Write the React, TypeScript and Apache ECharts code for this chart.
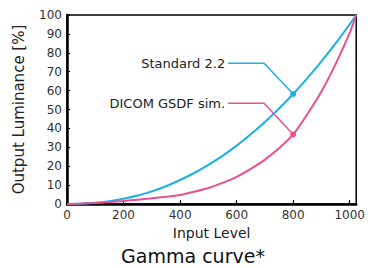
import React, { useEffect, useRef } from "react";
import * as echarts from "echarts";

const inputLevels = [0, 50, 100, 150, 200, 250, 300, 350, 400, 450, 500, 550, 600, 650, 700, 750, 800, 850, 900, 950, 1000, 1023];
const standard22 = [0, 0.1, 0.6, 1.5, 2.8, 4.5, 6.7, 9.4, 12.7, 16.4, 20.7, 25.5, 30.9, 36.9, 43.4, 50.5, 58.2, 66.6, 75.5, 85.0, 95.1, 100];
const dicomGsdf = [0, 0.2, 0.5, 1.0, 1.6, 2.3, 3.0, 3.8, 4.8, 6.5, 8.5, 11.2, 14.4, 18.6, 23.5, 29.5, 36.8, 47.5, 59.5, 74, 90.5, 100];

const seriesNames = ["Standard 2.2", "DICOM GSDF sim."];
const leaderStdX = [570, 697, 800];
const leaderStdY = [74.5, 74.5, 58.2];
const leaderDicomX = [570, 697, 800];
const leaderDicomY = [53.3, 53.3, 36.8];

const xTitle = "Input Level";
const yTitle = "Output Luminance [%]";
const chartTitle = "Gamma curve*";

const BLUE = "#19b1e6";
const PINK = "#e8508f";
const FONT = "DejaVu Sans";

function leader(xs: number[], ys: number[], name: string, color: string) {
  return {
    type: "line",
    silent: true,
    showSymbol: true,
    data: xs.map((x, i) => {
      const item: any = { value: [x, ys[i]], symbol: "circle", symbolSize: 0 };
      if (i === 0) {
        item.label = {
          show: true,
          formatter: name,
          position: "left",
          distance: 3,
          color: "#222",
          fontSize: 13,
          fontFamily: FONT,
        };
      }
      if (i === xs.length - 1) {
        item.symbolSize = 6;
      }
      return item;
    }),
    lineStyle: { color, width: 1.5 },
    itemStyle: { color },
    z: 3,
  };
}

export default function App() {
  const ref = useRef<HTMLDivElement>(null);
  useEffect(() => {
    const chart = echarts.init(ref.current!, undefined, { renderer: "svg" });
    chart.setOption({
      animation: false,
      grid: {
        left: 67,
        right: 5,
        top: 15,
        bottom: 64,
        show: true,
        borderColor: "#000",
        borderWidth: 1.5,
      },
      xAxis: {
        type: "value",
        min: 0,
        max: 1023,
        interval: 200,
        name: xTitle,
        nameLocation: "middle",
        nameGap: 22,
        nameTextStyle: { color: "#222", fontSize: 14, fontFamily: FONT },
        axisLine: { lineStyle: { color: "#000", width: 2.5 } },
        axisTick: { inside: true, length: 4, lineStyle: { color: "#000", width: 1.2 } },
        axisLabel: {
          color: "#333",
          fontSize: 12,
          fontFamily: FONT,
          margin: 5,
          showMaxLabel: false,
          formatter: (v: number) => String(v),
        },
        splitLine: { show: false },
      },
      yAxis: {
        type: "value",
        min: 0,
        max: 100,
        interval: 10,
        name: yTitle,
        nameLocation: "middle",
        nameGap: 41,
        nameRotate: 90,
        nameTextStyle: { color: "#222", fontSize: 15, fontFamily: FONT },
        axisLine: { show: true, lineStyle: { color: "#000", width: 2.5 } },
        axisTick: { show: true, inside: true, length: 3, lineStyle: { color: "#000", width: 1.2 } },
        axisLabel: { color: "#333", fontSize: 12, fontFamily: FONT, margin: 5 },
        splitLine: { show: false },
      },
      graphic: [
        {
          type: "text",
          x: 193,
          y: 256,
          style: {
            text: chartTitle,
            fill: "#111",
            fontSize: 19,
            fontFamily: FONT,
            align: "center",
            verticalAlign: "middle",
          },
        },
      ],
      series: [
        {
          type: "line",
          name: seriesNames[0],
          data: inputLevels.map((x, i) => [x, standard22[i]]),
          smooth: 0.2,
          symbol: "none",
          lineStyle: { color: BLUE, width: 2 },
          z: 2,
        },
        {
          type: "line",
          name: seriesNames[1],
          data: inputLevels.map((x, i) => [x, dicomGsdf[i]]),
          smooth: 0.2,
          symbol: "none",
          lineStyle: { color: PINK, width: 2 },
          z: 2,
        },
        leader(leaderStdX, leaderStdY, seriesNames[0], BLUE),
        leader(leaderDicomX, leaderDicomY, seriesNames[1], PINK),
      ],
    });
    return () => chart.dispose();
  }, []);
  return <div ref={ref} style={{ width: 368, height: 268, position: "absolute", left: 0, top: 0 }} />;
}
